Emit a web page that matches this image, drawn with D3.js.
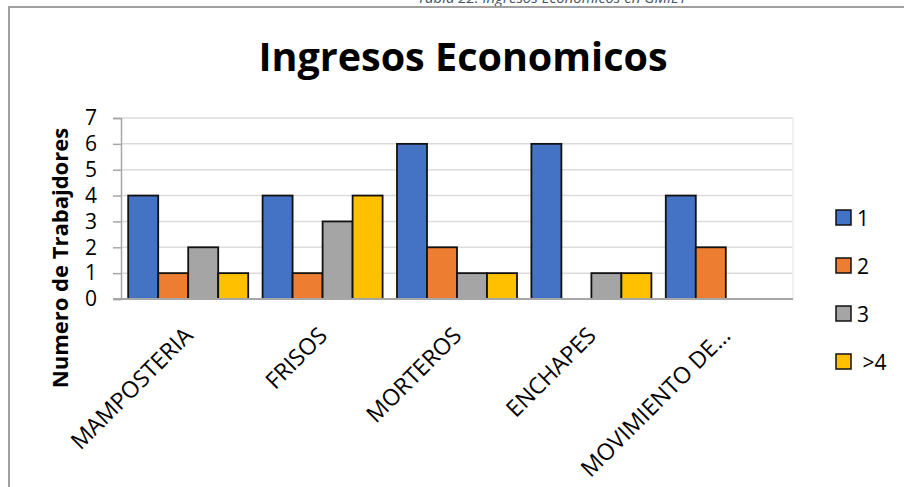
<!DOCTYPE html>
<html>
<head>
<meta charset="utf-8">
<script src="https://cdn.jsdelivr.net/npm/d3@7"></script>
<style>
  html, body { margin: 0; padding: 0; background: #fff; }
  svg { display: block; }
</style>
</head>
<body>
<svg id="chart" width="904" height="487"></svg>
<script>
// Trabajadores por actividad y por número de ingresos
const categories = ["MAMPOSTERIA", "FRISOS", "MORTEROS", "ENCHAPES", "MOVIMIENTO DE…"];
const seriesNames = ["1", "2", "3", ">4"];
const values1 = [4, 4, 6, 6, 4];
const values2 = [1, 1, 2, 0, 2];
const values3 = [2, 3, 1, 1, 0];
const values4 = [1, 4, 1, 1, 0];
const yTicks = [0, 1, 2, 3, 4, 5, 6, 7];
const colors = ["#4472C4", "#ED7D31", "#A5A5A5", "#FFC000"];
const legendLabels = ["1", "2", "3", " >4"];

const allSeries = [values1, values2, values3, values4];
const font = "'Open Sans', sans-serif";

const svg = d3.select("#chart");

// caption above the chart frame
svg.append("text")
  .attr("x", 552).attr("y", 3)
  .attr("text-anchor", "middle")
  .attr("font-family", font).attr("font-style", "italic")
  .attr("font-size", 15).attr("fill", "#44546A")
  .text("Tabla 22. Ingresos Economicos en GMIL1");

// chart frame
svg.append("path")
  .attr("d", "M9,495 L9,7 L910,7")
  .attr("fill", "none").attr("stroke", "#a0a0a0").attr("stroke-width", 2);

// title
svg.append("text")
  .attr("x", 463).attr("y", 71)
  .attr("text-anchor", "middle")
  .attr("font-family", font).attr("font-weight", "bold")
  .attr("font-size", 39.5).attr("fill", "#000")
  .text("Ingresos Economicos");

const plot = { left: 121, right: 793, top: 118, bottom: 299 };

const x0 = d3.scaleBand().domain(categories)
  .range([plot.left, plot.right]).paddingInner(0.107).paddingOuter(0.0535);
const x1 = d3.scaleBand().domain(seriesNames).range([0, x0.bandwidth()]);
const y = d3.scaleLinear().domain([0, 7]).range([plot.bottom, plot.top]);

// gridlines
svg.append("g").selectAll("line").data(yTicks.filter(d => d > 0)).join("line")
  .attr("x1", plot.left).attr("x2", plot.right)
  .attr("y1", d => y(d)).attr("y2", d => y(d))
  .attr("stroke", "#dcdcdc").attr("stroke-width", 1.5);
// right plot edge
svg.append("line")
  .attr("x1", plot.right).attr("x2", plot.right)
  .attr("y1", plot.top).attr("y2", plot.bottom)
  .attr("stroke", "#eeeeee").attr("stroke-width", 1.5);

// y axis
const yAxis = d3.axisLeft(y).tickValues(yTicks).tickSize(8).tickPadding(16).tickFormat(d3.format("d"));
const yg = svg.append("g").attr("transform", `translate(${plot.left},0)`).call(yAxis);
yg.select(".domain").attr("stroke", "#a6a6a6").attr("stroke-width", 1.5);
yg.selectAll(".tick line").attr("stroke", "#a6a6a6").attr("stroke-width", 1.5);
yg.selectAll(".tick text").attr("font-family", font).attr("font-size", 21).attr("fill", "#000");

// bars
const groups = svg.append("g").selectAll("g").data(categories).join("g")
  .attr("transform", d => `translate(${x0(d)},0)`);
groups.selectAll("rect")
  .data((c, i) => allSeries.map((s, k) => ({ key: seriesNames[k], v: s[i], k })).filter(d => d.v > 0))
  .join("rect")
  .attr("x", d => x1(d.key))
  .attr("y", d => y(d.v))
  .attr("width", x1.bandwidth())
  .attr("height", d => y(0) - y(d.v))
  .attr("fill", d => colors[d.k])
  .attr("stroke", "#111").attr("stroke-width", 1.8);

// baseline
svg.append("line")
  .attr("x1", plot.left - 8).attr("x2", plot.right)
  .attr("y1", y(0)).attr("y2", y(0))
  .attr("stroke", "#a6a6a6").attr("stroke-width", 2);

// x category labels
const xg = svg.append("g");
categories.forEach(c => {
  const cx = x0(c) + x0.bandwidth() / 2 + 6;
  xg.append("text")
    .attr("transform", `translate(${cx},${plot.bottom + 38}) rotate(-45)`)
    .attr("text-anchor", "end")
    .attr("font-family", font).attr("font-size", 23).attr("fill", "#000")
    .text(c);
});

// y axis title
svg.append("text")
  .attr("transform", `translate(68,258) rotate(-90)`)
  .attr("text-anchor", "middle")
  .attr("font-family", font).attr("font-weight", "bold")
  .attr("font-size", 22).attr("fill", "#000")
  .text("Numero de Trabajdores");

// legend
const legend = svg.append("g").selectAll("g").data(seriesNames).join("g")
  .attr("transform", (d, i) => `translate(836,${218 + i * 48})`);
legend.append("rect")
  .attr("x", 0).attr("y", -8).attr("width", 15).attr("height", 15)
  .attr("fill", (d, i) => colors[i]).attr("stroke", "#111").attr("stroke-width", 1.5);
legend.append("text")
  .attr("x", 21).attr("y", 8)
  .attr("font-family", font).attr("font-size", 21).attr("fill", "#000")
  .attr("xml:space", "preserve")
  .text((d, i) => legendLabels[i]);
</script>
</body>
</html>
